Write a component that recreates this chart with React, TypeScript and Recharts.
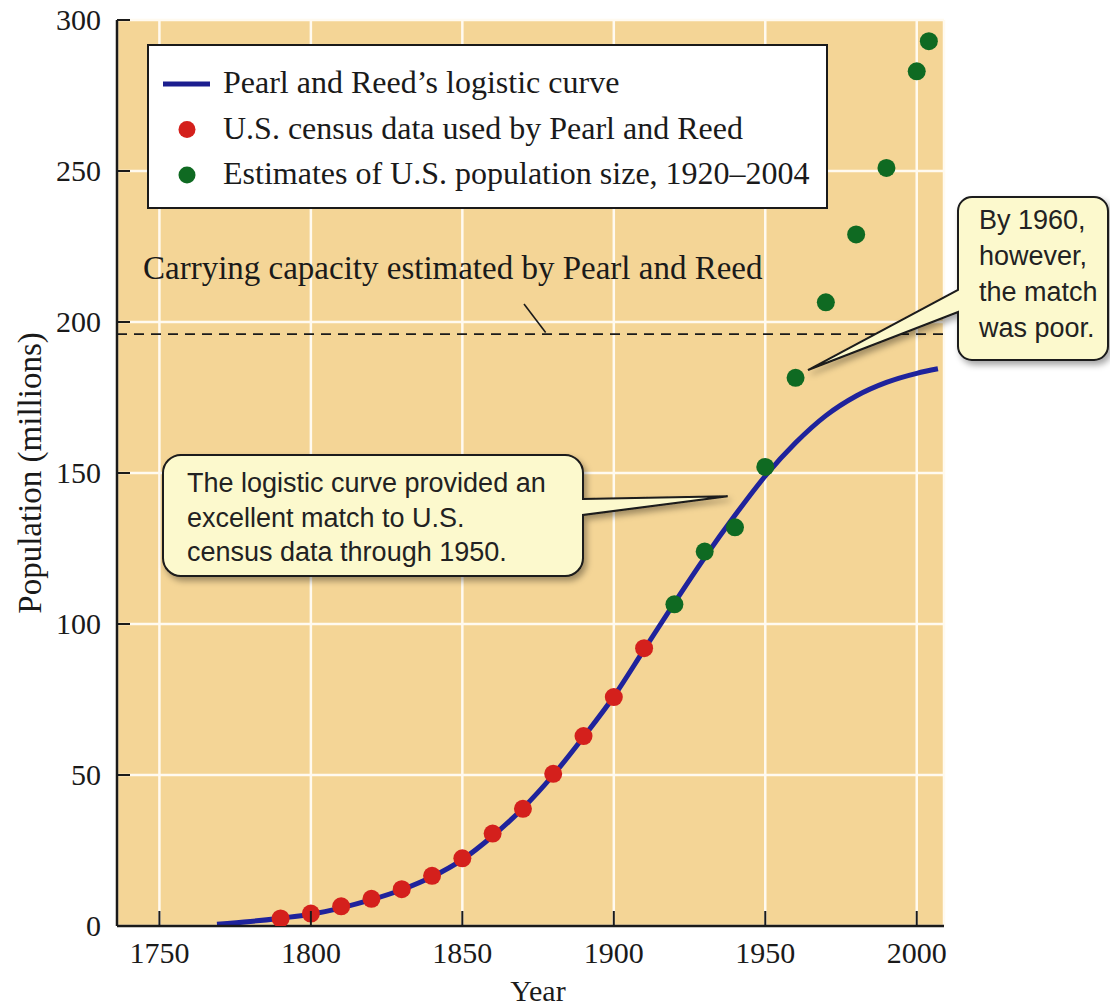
import React from 'react';
import {
  ComposedChart,
  Line,
  Scatter,
  XAxis,
  YAxis,
  CartesianGrid,
  ReferenceLine,
  Legend,
} from 'recharts';

// Pearl and Reed's logistic curve
const curveYears = [1769, 1780, 1790, 1800, 1810, 1820, 1830, 1840, 1850, 1860, 1870, 1880, 1890, 1900, 1910, 1920, 1930, 1940, 1950, 1960, 1970, 1980, 1990, 2000, 2007];
const curvePop = [0.6, 1.5, 2.6, 3.9, 6.0, 8.7, 12.0, 16.3, 22.0, 29.8, 39.0, 50.0, 62.6, 76.0, 91.5, 107, 122, 136, 149, 160, 169, 175.5, 180, 183, 184.5];

// red dots: census data used by Pearl and Reed
const censusYears = [1790, 1800, 1810, 1820, 1830, 1840, 1850, 1860, 1870, 1880, 1890, 1900, 1910];
const censusPop = [2.5, 4.1, 6.5, 9.0, 12.2, 16.6, 22.4, 30.6, 38.8, 50.4, 62.9, 75.8, 92.0];

// green dots: later estimates
const estimateYears = [1920, 1930, 1940, 1950, 1960, 1970, 1980, 1990, 2000, 2004];
const estimatePop = [106.5, 124, 132, 152, 181.5, 206.5, 229, 251, 283, 293];

const xTicks = [1750, 1800, 1850, 1900, 1950, 2000];
const yTicks = [0, 50, 100, 150, 200, 250, 300];
const carryingCapacity = 196;

const legendItems = [
  { name: "Pearl and Reed\u2019s logistic curve", kind: 'line', color: '#1c1e8f' },
  { name: 'U.S. census data used by Pearl and Reed', kind: 'dot', color: '#d4201c' },
  { name: 'Estimates of U.S. population size, 1920\u20132004', kind: 'dot', color: '#0f6a22' },
];

const curveData = curveYears.map((year, i) => ({ year, pop: curvePop[i] }));
const censusData = censusYears.map((year, i) => ({ year, pop: censusPop[i] }));
const estimateData = estimateYears.map((year, i) => ({ year, pop: estimatePop[i] }));

const W = 1110;
const H = 1006;
const PLOT = { left: 117, right: 944, top: 20, bottom: 926 };
const X_DOMAIN: [number, number] = [1736, 2009];
const Y_MAX = 300;

const SERIF = '"Liberation Serif", "Times New Roman", serif';
const SANS = '"Liberation Sans", Arial, sans-serif';
const INK = '#1a1a1a';
const BG = '#f4d596';
const CALLOUT = '#fcf9cd';

// pixel helpers for the annotation layer (same geometry as the chart)
const px = (yr: number) => PLOT.left + ((yr - X_DOMAIN[0]) / (X_DOMAIN[1] - X_DOMAIN[0])) * (PLOT.right - PLOT.left);
const py = (v: number) => PLOT.bottom - (v / Y_MAX) * (PLOT.bottom - PLOT.top);

const XTick = (props: any) => {
  const { x, y, payload } = props;
  return (
    <g>
      <line x1={x} y1={y} x2={x} y2={y - 15} stroke={INK} strokeWidth={2} />
      <text x={x} y={y + 37} textAnchor="middle" fontFamily={SERIF} fontSize={30} fill={INK}>
        {payload.value}
      </text>
    </g>
  );
};

const YTick = (props: any) => {
  const { x, y, payload } = props;
  return (
    <g>
      <line x1={x} y1={y} x2={x + 13} y2={y} stroke={INK} strokeWidth={2} />
      <text x={x - 16} y={y + 10} textAnchor="end" fontFamily={SERIF} fontSize={30} fill={INK}>
        {payload.value}
      </text>
    </g>
  );
};

const YTitle = () => (
  <text
    transform={`translate(30, ${(PLOT.top + PLOT.bottom) / 2}) rotate(-90)`}
    textAnchor="middle"
    dominantBaseline="central"
    fontFamily={SERIF}
    fontSize={33}
    fill={INK}
  >
    Population (millions)
  </text>
);

const XTitle = () => (
  <text x={538} y={1001} textAnchor="middle" fontFamily={SERIF} fontSize={30} fill={INK}>
    Year
  </text>
);

const LegendBox = () => (
  <svg width={677} height={161} style={{ display: 'block' }}>
    {legendItems.map((item, i) => {
      const cy = 38 + i * 45.5;
      return (
        <g key={item.name}>
          {item.kind === 'line' ? (
            <line x1={14} y1={cy} x2={61} y2={cy} stroke={item.color} strokeWidth={5} />
          ) : (
            <circle cx={38} cy={cy} r={8.5} fill={item.color} />
          )}
          <text x={74} y={cy + 9} fontFamily={SERIF} fontSize={32} fill={INK}>
            {item.name}
          </text>
        </g>
      );
    })}
  </svg>
);

const dot = (color: string) => (props: any) => <circle cx={props.cx} cy={props.cy} r={9} fill={color} />;

const Annotations = () => {
  const r = 18;
  // left callout
  const a = { l: 163, t: 455, rt: 583, b: 576 };
  const tip1 = { x: px(1937.6), y: py(142.3) };
  const path1 = `M ${a.l + r} ${a.t} H ${a.rt - r} A ${r} ${r} 0 0 1 ${a.rt} ${a.t + r} V 499 L ${tip1.x} ${tip1.y} L ${a.rt} 515 V ${a.b - r} A ${r} ${r} 0 0 1 ${a.rt - r} ${a.b} H ${a.l + r} A ${r} ${r} 0 0 1 ${a.l} ${a.b - r} V ${a.t + r} A ${r} ${r} 0 0 1 ${a.l + r} ${a.t} Z`;
  // right callout
  const c = { l: 958, t: 197, rt: 1108, b: 360 };
  const r2 = 14;
  const tip2 = { x: px(1964.1), y: py(184.1) };
  const path2 = `M ${c.l + r2} ${c.t} H ${c.rt - r2} A ${r2} ${r2} 0 0 1 ${c.rt} ${c.t + r2} V ${c.b - r2} A ${r2} ${r2} 0 0 1 ${c.rt - r2} ${c.b} H ${c.l + r2} A ${r2} ${r2} 0 0 1 ${c.l} ${c.b - r2} V 312 L ${tip2.x} ${tip2.y} L ${c.l} 290 V ${c.t + r2} A ${r2} ${r2} 0 0 1 ${c.l + r2} ${c.t} Z`;
  const lines1 = ['The logistic curve provided an', 'excellent match to U.S.', 'census data through 1950.'];
  const lines2 = ['By 1960,', 'however,', 'the match', 'was poor.'];
  return (
    <svg width={W} height={H} style={{ position: 'absolute', left: 0, top: 0, pointerEvents: 'none' }}>
      <defs>
        <filter id="shadow" x="-20%" y="-20%" width="140%" height="140%">
          <feDropShadow dx={3} dy={4} stdDeviation={3} floodColor="#000" floodOpacity={0.35} />
        </filter>
      </defs>
      <text x={143} y={279} fontFamily={SERIF} fontSize={33} fill={INK}>
        Carrying capacity estimated by Pearl and Reed
      </text>
      <line x1={524} y1={304} x2={px(1877.5)} y2={py(carryingCapacity + 0.5)} stroke={INK} strokeWidth={1.6} />
      <path d={path1} fill={CALLOUT} stroke={INK} strokeWidth={2} filter="url(#shadow)" />
      {lines1.map((t, i) => (
        <text key={t} x={187} y={492 + i * 34.5} fontFamily={SANS} fontSize={27} fill="#222">
          {t}
        </text>
      ))}
      <path d={path2} fill={CALLOUT} stroke={INK} strokeWidth={2} filter="url(#shadow)" />
      {lines2.map((t, i) => (
        <text key={t} x={979} y={229 + i * 36} fontFamily={SANS} fontSize={27} fill="#222">
          {t}
        </text>
      ))}
    </svg>
  );
};

export default function App() {
  return (
    <div style={{ position: 'absolute', left: 0, top: 0, width: W, height: H, background: '#fff' }}>
      <ComposedChart
        width={W}
        height={H}
        margin={{ top: PLOT.top, right: W - PLOT.right, bottom: H - PLOT.bottom - 50, left: PLOT.left - 80 }}
      >
        <CartesianGrid stroke="#fffaf0" strokeWidth={2.5} fill={BG} fillOpacity={1} />
        <XAxis
          dataKey="year"
          type="number"
          domain={X_DOMAIN}
          ticks={xTicks}
          interval={0}
          allowDataOverflow
          height={50}
          tickSize={0}
          tickMargin={0}
          tickLine={false}
          tick={<XTick />}
          axisLine={{ stroke: INK, strokeWidth: 2.5 }}
          label={<XTitle />}
        />
        <YAxis
          type="number"
          domain={[0, Y_MAX]}
          ticks={yTicks}
          interval={0}
          allowDataOverflow
          width={80}
          tickSize={0}
          tickMargin={0}
          tickLine={false}
          tick={<YTick />}
          axisLine={{ stroke: INK, strokeWidth: 2.5 }}
          label={<YTitle />}
        />
        <ReferenceLine y={carryingCapacity} stroke={INK} strokeWidth={1.8} strokeDasharray="10 7" />
        <Line
          data={curveData}
          dataKey="pop"
          type="monotone"
          stroke="#1f239c"
          strokeWidth={5}
          dot={false}
          activeDot={false}
          isAnimationActive={false}
        />
        <Scatter data={censusData} dataKey="pop" shape={dot('#d4201c')} isAnimationActive={false} />
        <Scatter data={estimateData} dataKey="pop" shape={dot('#0f6a22')} isAnimationActive={false} />
        <Legend
          layout="horizontal"
          verticalAlign="middle"
          align="center"
          wrapperStyle={{
            position: 'absolute',
            left: 147,
            top: 44,
            width: 681,
            height: 165,
            border: `2px solid ${INK}`,
            background: '#fff',
            boxSizing: 'border-box',
          }}
          content={() => <LegendBox />}
        />
      </ComposedChart>
      <Annotations />
    </div>
  );
}
